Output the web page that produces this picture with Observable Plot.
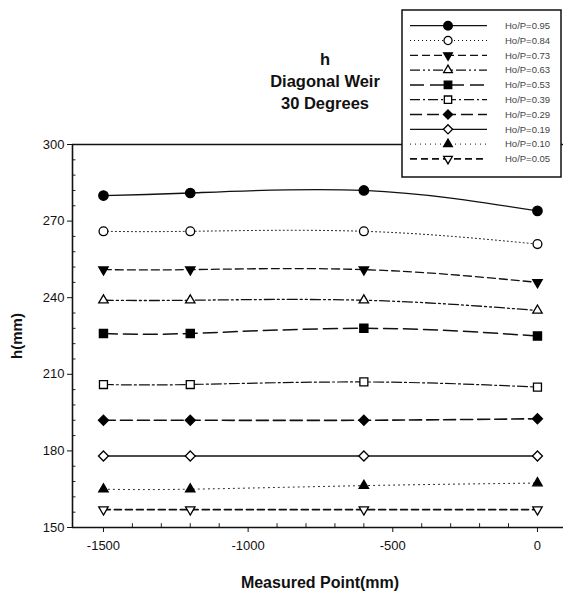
<!DOCTYPE html>
<html>
<head>
<meta charset="utf-8">
<script src="https://cdn.jsdelivr.net/npm/d3@7"></script>
<script src="https://cdn.jsdelivr.net/npm/@observablehq/plot@0.6"></script>
<style>
  html, body { margin: 0; padding: 0; background: #fff; }
  #wrap { position: relative; width: 563px; height: 595px; font-family: "Liberation Sans", Arial, sans-serif; }
  #wrap svg.plot { position: absolute; left: 0; top: 0; }
  #title { position: absolute; left: 225px; width: 200px; top: 48px; text-align: center; font-weight: bold; font-size: 16.5px; line-height: 22px; color: #111; z-index: 2; }
</style>
</head>
<body>
<div id="wrap">
  <div id="title">h<br>Diagonal Weir<br>30 Degrees</div>
</div>
<script>
// ---- data ----
const measuredPoints = [-1500, -1200, -600, 0];
const seriesLabels = ["Ho/P=0.95","Ho/P=0.84","Ho/P=0.73","Ho/P=0.63","Ho/P=0.53","Ho/P=0.39","Ho/P=0.29","Ho/P=0.19","Ho/P=0.10","Ho/P=0.05"];
const h095 = [280, 281, 282, 274];
const h084 = [266, 266, 266, 261];
const h073 = [251, 251, 251, 246];
const h063 = [239, 239, 239, 235];
const h053 = [226, 226, 228, 225];
const h039 = [206, 206, 207, 205];
const h029 = [192, 192, 192, 192.6];
const h019 = [178, 178, 178, 178];
const h010 = [165, 165, 166.4, 167.4];
const h005 = [157, 157, 157, 157];
const seriesValues = [h095, h084, h073, h063, h053, h039, h029, h019, h010, h005];
const yTicks = [150, 180, 210, 240, 270, 300];
const xTicks = [-1500, -1000, -500, 0];

// ---- styles ----
const triDown = {
  draw(ctx, size) {
    const y = -Math.sqrt(size / (Math.sqrt(3) * 3));
    ctx.moveTo(0, -2 * y);
    ctx.lineTo(-Math.sqrt(3) * y, y);
    ctx.lineTo(Math.sqrt(3) * y, y);
    ctx.closePath();
  }
};
const styles = [
  {dash: null, w: 1.3, sym: d3.symbolCircle, fill: true, r: 4.7},
  {dash: "1,3", w: 1, sym: d3.symbolCircle, fill: false, r: 4.4},
  {dash: "8,4", w: 1.3, sym: triDown, fill: true, r: 3.5},
  {dash: "10,3,2,3,2,3", w: 1.3, sym: d3.symbolTriangle, fill: false, r: 3.5},
  {dash: "14,6", w: 1.5, sym: d3.symbolSquare, fill: true, r: 4.6},
  {dash: "10,3,2,3", w: 1.2, sym: d3.symbolSquare, fill: false, r: 4.5},
  {dash: "12,5", w: 1.6, sym: d3.symbolDiamond2, fill: true, r: 4.5},
  {dash: null, w: 1.3, sym: d3.symbolDiamond2, fill: false, r: 4.5},
  {dash: "1,4", w: 1, sym: d3.symbolTriangle, fill: true, r: 3.5},
  {dash: "7,4", w: 1.6, sym: triDown, fill: false, r: 3.5}
];

const rows = seriesLabels.map((label, i) => measuredPoints.map((x, j) => ({label, x, h: seriesValues[i][j]})));

const X0 = -1607, X1 = 90;
const marks = [];
// minor ticks (inward)
marks.push(Plot.ruleY(d3.range(156, 300, 6).filter(v => v % 30 !== 0), {x1: X0, x2: X0 + 12, stroke: "#222", strokeWidth: 1}));
marks.push(Plot.ruleX(d3.range(-1500, 91, 100).filter(v => v % 500 !== 0), {y1: 150, y2: 151.5, stroke: "#222", strokeWidth: 1}));
// frame
marks.push(Plot.ruleY([300], {x1: X0, x2: X1, stroke: "#111", strokeWidth: 1.6}));
marks.push(Plot.ruleY([150], {x1: X0, x2: X1, stroke: "#111", strokeWidth: 1.6}));
marks.push(Plot.ruleX([X0], {y1: 150, y2: 300, stroke: "#111", strokeWidth: 1.6}));

rows.forEach((data, i) => {
  const s = styles[i];
  marks.push(Plot.line(data, {x: "x", y: "h", curve: "natural", stroke: "#111", strokeWidth: s.w, strokeDasharray: s.dash}));
});
rows.forEach((data, i) => {
  const s = styles[i];
  marks.push(Plot.dot(data, {x: "x", y: "h", symbol: s.sym, r: s.r, fill: s.fill ? "#000" : "#fff", stroke: "#000", strokeWidth: 1.3}));
});

marks.push(Plot.axisY(yTicks, {tickSize: 5, tickPadding: 3, fontSize: 13, label: null, stroke: "#111", tickFormat: d => String(d)}));
marks.push(Plot.axisX(xTicks, {tickSize: 5, tickPadding: 8, fontSize: 13, label: null, stroke: "#111", tickFormat: d => String(d)}));

const chart = Plot.plot({
  width: 563,
  height: 595,
  marginLeft: 72,
  marginRight: 0,
  marginTop: 144,
  marginBottom: 68,
  x: {type: "linear", domain: [X0, X1]},
  y: {type: "linear", domain: [150, 300]},
  style: {fontFamily: "Liberation Sans, Arial, sans-serif", color: "#111", background: "transparent"},
  marks
});
chart.classList.add("plot");
document.getElementById("wrap").appendChild(chart);

// axis labels
const svg = d3.select(chart);
svg.append("text").attr("x", 320).attr("y", 588).attr("text-anchor", "middle")
  .attr("font-size", 16).attr("font-weight", "bold").attr("fill", "#111").text("Measured Point(mm)");
svg.append("text").attr("transform", "translate(22,336) rotate(-90)").attr("text-anchor", "middle")
  .attr("font-size", 15).attr("font-weight", "bold").attr("fill", "#111").text("h(mm)");

// legend
const lg = svg.append("g");
lg.append("rect").attr("x", 402).attr("y", 10).attr("width", 159).attr("height", 167)
  .attr("fill", "#fff").attr("stroke", "#111").attr("stroke-width", 1.5);
seriesLabels.forEach((label, i) => {
  const s = styles[i];
  const y = 25.7 + i * 14.8;
  lg.append("line").attr("x1", 410).attr("x2", 487).attr("y1", y).attr("y2", y)
    .attr("stroke", "#111").attr("stroke-width", s.w).attr("stroke-dasharray", s.dash);
  lg.append("path").attr("d", d3.symbol(s.sym, Math.PI * s.r * s.r * 0.85)())
    .attr("transform", `translate(448,${y})`)
    .attr("fill", s.fill ? "#000" : "#fff").attr("stroke", "#000").attr("stroke-width", 1.3);
  lg.append("text").attr("x", 505).attr("y", y).attr("dy", "0.35em").attr("text-anchor", "start")
    .attr("font-size", 9.5).attr("fill", "#444").text(label);
});
</script>
</body>
</html>
